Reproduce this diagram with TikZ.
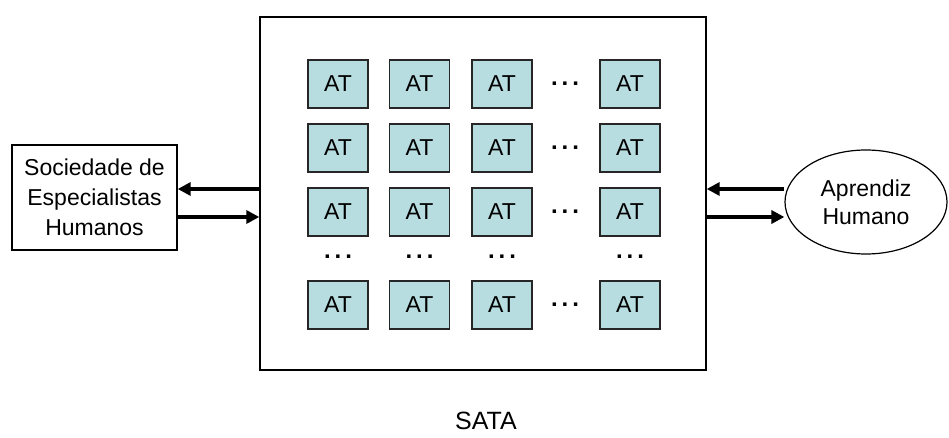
\documentclass[tikz,border=0pt]{standalone}
\usepackage{fontspec}
\setmainfont{Liberation Sans}
\usetikzlibrary{arrows.meta,shapes.geometric}
\definecolor{atfill}{RGB}{183,221,224}
\begin{document}
\begin{tikzpicture}[x=1pt,y=-1pt,
  atbox/.style={draw=black!85, line width=1.6pt, fill=atfill, minimum width=60pt, minimum height=48pt, inner sep=0pt, font=\fontsize{23}{24}\selectfont},
  dotsnode/.style={font=\bfseries\fontsize{24}{24}\selectfont, inner sep=0pt},
  thickarrow/.style={line width=3.5pt, -{Triangle[length=13pt,width=13pt]}},
  lbl/.style={font=\fontsize{23}{30}\selectfont, align=center}]
\useasboundingbox (0,0) rectangle (949,438);
\node[draw, line width=1.4pt, minimum width=446pt, minimum height=353pt, inner sep=0pt] (sata) at (483,193.5) {};
% grid
\foreach \r/\y in {1/84,2/148,3/212,5/305}{
  \node[atbox] (a\r1) at (338,\y) {AT};
  \node[atbox] (a\r2) at (419.5,\y) {AT};
  \node[atbox] (a\r3) at (502,\y) {AT};
  \node[atbox] (a\r4) at (630,\y) {AT};
  \node[dotsnode] (d\r) at (565,\y) {.\,.\,.};
}
\node[dotsnode] (e1) at (338,257) {.\,.\,.};
\node[dotsnode] (e2) at (419.5,257) {.\,.\,.};
\node[dotsnode] (e3) at (502,257) {.\,.\,.};
\node[dotsnode] (e4) at (630,257) {.\,.\,.};
% left box
\node[draw, line width=1.4pt, minimum width=165pt, minimum height=105pt, inner sep=0pt, lbl] (soc) at (94.5,197.5) {Sociedade de\\Especialistas\\Humanos};
% right ellipse
\node[draw, ellipse, line width=1.2pt, minimum width=162pt, minimum height=104pt, inner sep=0pt, lbl, font=\fontsize{23}{28}\selectfont] (apr) at (866,202) {Aprendiz\\Humano};
% arrows
\coordinate (sl1) at (sata.west |- 0,189);
\coordinate (sl2) at (sata.west |- 0,217);
\coordinate (sr1) at (sata.east |- 0,189);
\coordinate (sr2) at (sata.east |- 0,217);
\draw[thickarrow] (sl1) -- (soc.east |- sl1);
\draw[thickarrow] (soc.east |- sl2) -- (sl2);
\draw[thickarrow] (apr.west |- sr1) -- (sr1);
\draw[thickarrow] (sr2) -- (apr.west |- sr2);
\node[font=\fontsize{25}{28}\selectfont] (title) at (486,421) {SATA};
\end{tikzpicture}
\end{document}
